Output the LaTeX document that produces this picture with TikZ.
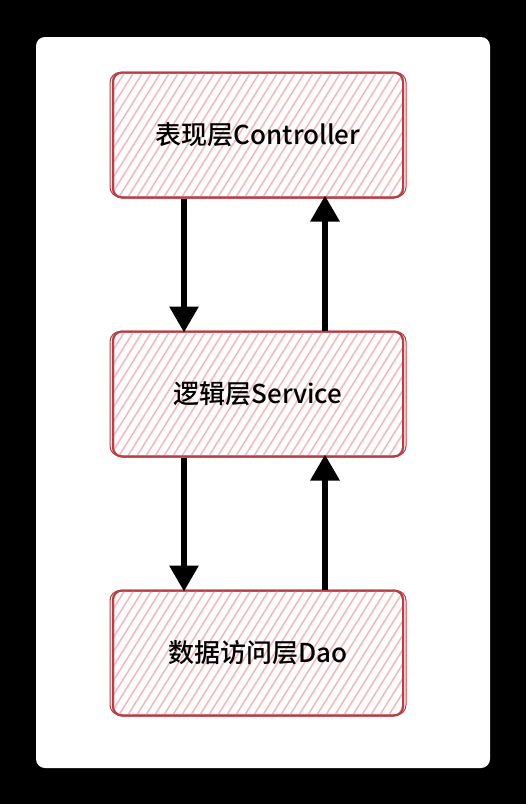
\documentclass[tikz,border=0pt]{standalone}
\usepackage{fontspec}
\newfontfamily\cjk[BoldFont={Noto Sans CJK SC Bold}]{Noto Sans CJK SC Medium}
\usetikzlibrary{arrows.meta}
\definecolor{boxred}{RGB}{184,62,70}
\definecolor{hatch}{RGB}{244,184,186}
\tikzset{
  layerbox/.style={draw=boxred, line width=2pt, rounded corners=9pt,
    minimum width=290pt, minimum height=125pt, font=\cjk\fontsize{26}{31}\selectfont, text=black},
  flow/.style={line width=6pt, -{Triangle[length=26pt,width=28pt]}, black}
}
\newcommand{\hatchbox}[1]{%
  \begin{scope}
    \clip[rounded corners=9pt] (#1.south west) rectangle (#1.north east);
    \foreach \k in {-300,-291,...,300}{
      \draw[hatch, line width=1.5pt] ([xshift=\k pt]#1.south west) -- ++(58:300pt);
    }
  \end{scope}}
\begin{document}
\begin{tikzpicture}[x=1pt,y=-1pt]
\fill[black] (0,0) rectangle (526,804);
\fill[white, rounded corners=9pt] (36,37) rectangle (490,768);
\node[layerbox] (ctl) at (258,135) {};
\node[layerbox] (svc) at (258,394) {};
\node[layerbox] (dao) at (258,653) {};
\hatchbox{ctl}
\hatchbox{svc}
\hatchbox{dao}
\node[layerbox] at (ctl) {表现层Controller};
\node[layerbox] at (svc) {逻辑层Service};
\node[layerbox] at (dao) {数据访问层Dao};
\draw[boxred, line width=1pt, rounded corners=10pt] ([shift={(-2pt,1.5pt)}]ctl.south west) rectangle ([shift={(2pt,-1pt)}]ctl.north east);
\draw[boxred, line width=1pt, rounded corners=10pt] ([shift={(-2pt,1.5pt)}]svc.south west) rectangle ([shift={(2pt,-1pt)}]svc.north east);
\draw[boxred, line width=1pt, rounded corners=10pt] ([shift={(-2pt,1.5pt)}]dao.south west) rectangle ([shift={(2pt,-1pt)}]dao.north east);
\coordinate (a1s) at ([xshift=-74pt]ctl.south);
\coordinate (a1e) at ([xshift=-74pt]svc.north);
\coordinate (a2s) at ([xshift=67pt]svc.north);
\coordinate (a2e) at ([xshift=67pt]ctl.south);
\coordinate (a3s) at ([xshift=-74pt]svc.south);
\coordinate (a3e) at ([xshift=-74pt]dao.north);
\coordinate (a4s) at ([xshift=67pt]dao.north);
\coordinate (a4e) at ([xshift=67pt]svc.south);
\draw[flow] (a1s) -- ([yshift=-2pt]a1e);
\draw[flow] (a2s) -- ([yshift=3pt]a2e);
\draw[flow] (a3s) -- ([yshift=-2pt]a3e);
\draw[flow] (a4s) -- ([yshift=3pt]a4e);
\end{tikzpicture}
\end{document}
